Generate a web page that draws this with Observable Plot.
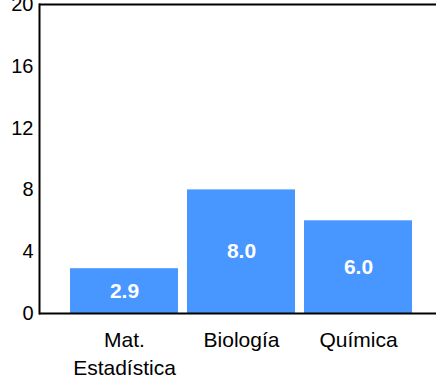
<!DOCTYPE html>
<html>
<head>
<meta charset="utf-8">
<script src="https://cdn.jsdelivr.net/npm/d3@7"></script>
<script src="https://cdn.jsdelivr.net/npm/@observablehq/plot@0.6"></script>
<style>
  html, body { margin: 0; padding: 0; background: #fff; }
  #chart svg { display: block; }
</style>
</head>
<body>
<div id="chart"></div>
<script>
const categories = ["Mat.\nEstadística", "Biología", "Química"];
const values = [2.9, 8.0, 6.0];
const yTicks = [0, 4, 8, 12, 16, 20];

const data = categories.map((c, i) => ({ cat: c, value: values[i] }));

const chart = Plot.plot({
  width: 436,
  height: 376,
  marginLeft: 39,
  marginRight: 0,
  marginTop: 4,
  marginBottom: 63,
  style: { fontFamily: "'Liberation Sans', Arial, sans-serif", fontSize: "20px", color: "#000", background: "#fff" },
  x: { domain: categories, paddingInner: 0.08, paddingOuter: 0.229, align: 0.557, label: null },
  y: { domain: [0, 20], ticks: yTicks, label: null },
  marks: [
    Plot.barY(data, { x: "cat", y: "value", fill: "#4896ff" }),
    Plot.text(data, {
      x: "cat", y: d => d.value / 2, text: d => d.value.toFixed(1),
      fill: "white", fontWeight: "bold", fontSize: 21
    }),
    Plot.axisY({ ticks: yTicks, tickSize: 0, tickPadding: 6, fontSize: 20, label: null }),
    Plot.axisX({ tickSize: 0, tickPadding: 13, fontSize: 21, lineHeight: 1.35, label: null }),
    Plot.ruleY([0], { stroke: "black", strokeWidth: 2 }),
    Plot.ruleY([20], { stroke: "black", strokeWidth: 2 }),
    Plot.frame({ anchor: "left", stroke: "black", strokeWidth: 2 })
  ]
});
document.getElementById("chart").appendChild(chart);
</script>
</body>
</html>
